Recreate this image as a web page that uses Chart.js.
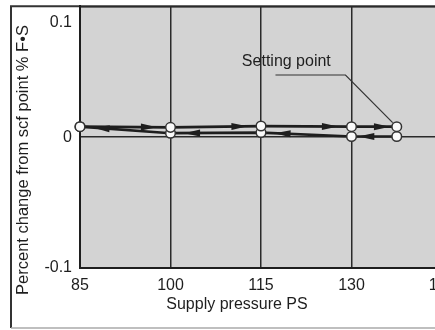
<!DOCTYPE html>
<html>
<head>
<meta charset="utf-8">
<script src="https://cdn.jsdelivr.net/npm/chart.js@4/dist/chart.umd.min.js"></script>
<style>
  html, body { margin: 0; padding: 0; background: #fff; overflow: hidden; }
  #wrap { width: 460px; height: 330px; }
</style>
</head>
<body>
<div id="wrap"><canvas id="drift" width="460" height="330"></canvas></div>
<script>
// --- DATA: supply pressure steps (PS) and output change, % of full scale ---
const risingPressure = [85, 100, 115, 130, 137.5];
const risingChange = [0.008, 0.0075, 0.0085, 0.008, 0.008];
const fallingPressure = [137.5, 130, 115, 100, 85];
const fallingChange = [0.0005, 0.0005, 0.0035, 0.003, 0.008];
const xTicks = [85, 100, 115, 130, 145];
const yTicks = [-0.1, 0, 0.1];

const xTitle = "Supply pressure PS";
const yTitle = "Percent change from scf point % F\u2022S";
const noteText = "Setting point";

const INK = "#1e1e1e";
const FAMILY = '"Liberation Sans", Arial, sans-serif';

// callout position in data units (label centre, start and bend of the leader)
const note = {x: 119.2, y: 0.058, lineFrom: 117.4, bendX: 129, bendY: 0.0475};

const toPoints = (xs, ys) => xs.map((v, i) => ({x: v, y: ys[i]}));

// grey plot field + outer frame
const paper = {
  id: "paper",
  beforeDraw(chart) {
    const {ctx, chartArea: a} = chart;
    ctx.save();
    ctx.fillStyle = "#d3d3d3";
    ctx.fillRect(a.left, a.top, a.right - a.left, a.bottom - a.top);
    ctx.strokeStyle = "#333";
    ctx.lineWidth = 2;
    ctx.beginPath();
    ctx.moveTo(11, 328);
    ctx.lineTo(11, a.top);
    ctx.lineTo(chart.width, a.top);
    ctx.stroke();
    ctx.strokeStyle = "#aaa";
    ctx.lineWidth = 1.5;
    ctx.beginPath();
    ctx.moveTo(11, 328);
    ctx.lineTo(chart.width, 328);
    ctx.stroke();
    ctx.restore();
  }
};

// direction arrows along every segment
const arrows = {
  id: "arrows",
  afterDatasetsDraw(chart) {
    const ctx = chart.ctx;
    ctx.save();
    ctx.fillStyle = INK;
    chart.data.datasets.forEach((ds, i) => {
      const pts = chart.getDatasetMeta(i).data;
      for (let k = 1; k < pts.length; k++) {
        const a = pts[k - 1], b = pts[k];
        const dx = b.x - a.x, dy = b.y - a.y, len = Math.hypot(dx, dy);
        const ux = dx / len, uy = dy / len;
        const tx = a.x + dx * 0.85, ty = a.y + dy * 0.85;
        ctx.beginPath();
        ctx.moveTo(tx, ty);
        ctx.lineTo(tx - ux * 16 - uy * 3.5, ty - uy * 16 + ux * 3.5);
        ctx.lineTo(tx - ux * 16 + uy * 3.5, ty - uy * 16 - ux * 3.5);
        ctx.closePath();
        ctx.fill();
      }
    });
    ctx.restore();
  }
};

// axis titles and the setting point callout
const notes = {
  id: "notes",
  afterDraw(chart) {
    const {ctx, scales: {x, y}} = chart;
    ctx.save();
    ctx.font = "16px " + FAMILY;
    ctx.fillStyle = INK;
    ctx.textAlign = "center";
    ctx.textBaseline = "middle";
    ctx.fillText(xTitle, 237, 305);
    ctx.fillText(noteText, x.getPixelForValue(note.x), y.getPixelForValue(note.y));

    const target = chart.getDatasetMeta(0).data[risingPressure.length - 1];
    const bx = x.getPixelForValue(note.bendX), by = y.getPixelForValue(note.bendY);
    const dx = target.x - bx, dy = target.y - by, len = Math.hypot(dx, dy);
    const r = target.options.radius + 1;
    ctx.strokeStyle = "#333";
    ctx.lineWidth = 1.2;
    ctx.beginPath();
    ctx.moveTo(x.getPixelForValue(note.lineFrom), by);
    ctx.lineTo(bx, by);
    ctx.lineTo(target.x - dx / len * r, target.y - dy / len * r);
    ctx.stroke();

    ctx.font = "16.5px " + FAMILY;
    ctx.translate(23, 160);
    ctx.rotate(-Math.PI / 2);
    ctx.fillText(yTitle, 0, 0);
    ctx.restore();
  }
};

const lineStyle = {
  borderColor: INK,
  borderWidth: 2.7,
  pointRadius: 4.8,
  pointBorderWidth: 1.5,
  pointBorderColor: "#333",
  pointBackgroundColor: "#fafafa",
  tension: 0,
  clip: false
};

new Chart(document.getElementById("drift"), {
  type: "line",
  data: {
    datasets: [
      {label: "Rising pressure", data: toPoints(risingPressure, risingChange), ...lineStyle},
      {label: "Falling pressure", data: toPoints(fallingPressure, fallingChange), ...lineStyle}
    ]
  },
  options: {
    responsive: false,
    animation: false,
    devicePixelRatio: 1,
    layout: {padding: {top: 5, right: 18, left: 0, bottom: 0}},
    plugins: {legend: {display: false}, tooltip: {enabled: false}},
    scales: {
      x: {
        type: "linear",
        min: 85,
        max: 145,
        afterBuildTicks: s => { s.ticks = xTicks.map(v => ({value: v})); },
        afterFit: s => { s.height = 62; s.paddingLeft = 0; s.paddingRight = 0; },
        grid: {color: "#2a2a2a", lineWidth: 1.5, drawTicks: false},
        border: {color: INK, width: 2},
        ticks: {color: INK, padding: 8, font: {family: FAMILY, size: 16}}
      },
      y: {
        min: -0.1,
        max: 0.1,
        afterBuildTicks: s => { s.ticks = yTicks.map(v => ({value: v})); },
        afterFit: s => { s.width = 80; s.paddingTop = 0; s.paddingBottom = 0; },
        grid: {color: "#2a2a2a", lineWidth: 1.5, drawTicks: false},
        border: {color: INK, width: 2},
        ticks: {
          color: INK,
          padding: 8,
          // top label sits a little under the frame rule
          font: c => ({family: FAMILY, size: 16, lineHeight: c.tick && c.tick.value > 0.05 ? 2 : 1.2}),
          callback: v => v > 0.05 ? ["", "0.1"] : (v === 0 ? "0" : String(v))
        }
      }
    }
  },
  plugins: [paper, arrows, notes]
});
</script>
</body>
</html>
